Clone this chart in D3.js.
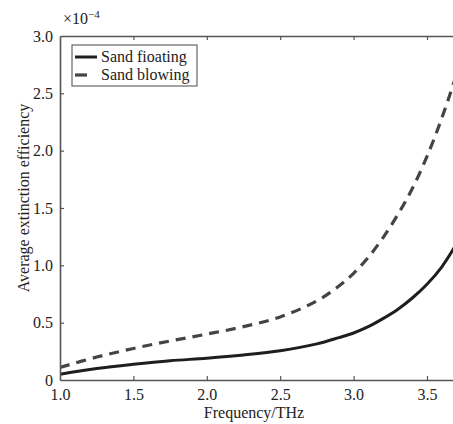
<!DOCTYPE html>
<html>
<head>
<meta charset="utf-8">
<script src="https://cdn.jsdelivr.net/npm/d3@7/dist/d3.min.js"></script>
<style>
  html, body { margin: 0; padding: 0; background: #fff; }
  svg { display: block; }
  svg text { font-family: "Liberation Serif", "Times New Roman", "DejaVu Serif", serif !important; fill: #222; }
</style>
</head>
<body>
<svg id="chart" width="453" height="424"></svg>
<script>
// Data (values in units of 1e-4)
const frequency = [1.0, 1.25, 1.5, 1.75, 2.0, 2.25, 2.5, 2.75, 2.9, 3.0, 3.1, 3.2, 3.3, 3.4, 3.5, 3.6, 3.7];
const sandFloating = [0.05, 0.10, 0.137, 0.168, 0.19, 0.218, 0.255, 0.315, 0.37, 0.41, 0.465, 0.535, 0.615, 0.715, 0.835, 0.985, 1.185];
const sandBlowing = [0.11, 0.20, 0.275, 0.34, 0.40, 0.465, 0.55, 0.69, 0.82, 0.93, 1.07, 1.24, 1.44, 1.67, 1.95, 2.28, 2.66];
const xTicks = [1.0, 1.5, 2.0, 2.5, 3.0, 3.5];
const xTickLabels = ["1.0", "1.5", "2.0", "2.5", "3.0", "3.5"];
const yTicks = [0, 0.5, 1.0, 1.5, 2.0, 2.5, 3.0];
const yTickLabels = ["0", "0.5", "1.0", "1.5", "2.0", "2.5", "3.0"];
const seriesNames = ["Sand fioating", "Sand blowing"];

(function () {
const svg = d3.select("#chart");
const mLeft = 60, mTop = 36, mBottom = 380;
const x = d3.scaleLinear().domain([1.0, 3.7]).range([mLeft, mLeft + 2.7 * 146.8]);
const y = d3.scaleLinear().domain([0, 3.0]).range([mBottom, mTop]);
const mRight = 460;
const serif = "Liberation Serif";
const axisColor = "#555";

svg.append("defs").append("clipPath").attr("id", "clip")
  .append("rect").attr("x", mLeft).attr("y", mTop).attr("width", mRight - mLeft).attr("height", mBottom - mTop);

const line = d3.line().x(d => x(d[0])).y(d => y(d[1])).curve(d3.curveCatmullRom.alpha(0.5));
const g = svg.append("g").attr("clip-path", "url(#clip)");
g.append("path")
  .datum(frequency.map((f, i) => [f, sandBlowing[i]]))
  .attr("d", line).attr("fill", "none").attr("stroke", "#444")
  .attr("stroke-width", 3.2).attr("stroke-dasharray", "10,7");
g.append("path")
  .datum(frequency.map((f, i) => [f, sandFloating[i]]))
  .attr("d", line).attr("fill", "none").attr("stroke", "#1e1e1e")
  .attr("stroke-width", 3);

const xAxisB = d3.axisBottom(x).tickValues(xTicks).tickFormat((d, i) => xTickLabels[i])
  .tickSizeInner(-4).tickSizeOuter(0).tickPadding(9);
const gx = svg.append("g").attr("transform", `translate(0,${mBottom})`).call(xAxisB)
  .attr("font-family", serif);
gx.select(".domain").attr("stroke", axisColor).attr("stroke-width", 1.6);
gx.selectAll(".tick line").attr("stroke", axisColor).attr("stroke-width", 1.2);
gx.selectAll(".tick text").attr("font-size", 16).attr("fill", "#222");
gx.selectAll(".tick").filter(d => d === 1.0).select("line").remove();

const xAxisT = d3.axisTop(x).tickValues(xTicks.slice(1)).tickFormat("")
  .tickSizeInner(-4).tickSizeOuter(0);
const gxt = svg.append("g").attr("transform", `translate(0,${mTop})`).call(xAxisT);
gxt.select(".domain").attr("stroke", axisColor).attr("stroke-width", 1.6);
gxt.selectAll(".tick line").attr("stroke", axisColor).attr("stroke-width", 1.2);

const yAxis = d3.axisLeft(y).tickValues(yTicks).tickFormat((d, i) => yTickLabels[i])
  .tickSizeInner(-4).tickSizeOuter(0).tickPadding(7);
const gy = svg.append("g").attr("transform", `translate(${mLeft},0)`).call(yAxis)
  .attr("font-family", serif);
gy.select(".domain").attr("stroke", axisColor).attr("stroke-width", 1.6);
gy.selectAll(".tick line").attr("stroke", axisColor).attr("stroke-width", 1.2);
gy.selectAll(".tick text").attr("font-size", 16).attr("fill", "#222");
gy.selectAll(".tick").filter(d => d === 0 || d === 3.0).select("line").remove();

const mult = svg.append("text").attr("x", 63).attr("y", 24).attr("font-size", 16).attr("font-family", serif);
mult.append("tspan").text("×10");
mult.append("tspan").attr("font-size", 11).attr("dy", -6).text("−4");

svg.append("text").attr("x", 254).attr("y", 418).attr("text-anchor", "middle")
  .attr("font-size", 16).attr("font-family", serif).text("Frequency/THz");
svg.append("text").attr("transform", "translate(29,198) rotate(-90)")
  .attr("text-anchor", "middle").attr("font-size", 16).attr("font-family", serif)
  .text("Average extinction efficiency");

const lg = svg.append("g");
lg.append("rect").attr("x", 72).attr("y", 45).attr("width", 125).attr("height", 41)
  .attr("fill", "#fff").attr("stroke", "#666").attr("stroke-width", 1.2);
lg.append("line").attr("x1", 75).attr("x2", 97).attr("y1", 57).attr("y2", 57)
  .attr("stroke", "#1e1e1e").attr("stroke-width", 3);
lg.append("line").attr("x1", 75).attr("x2", 97).attr("y1", 75).attr("y2", 75)
  .attr("stroke", "#444").attr("stroke-width", 3.2).attr("stroke-dasharray", "12,20");
lg.append("text").attr("x", 101).attr("y", 62).attr("font-size", 16).attr("font-family", serif).text(seriesNames[0]);
lg.append("text").attr("x", 101).attr("y", 80).attr("font-size", 16).attr("font-family", serif).text(seriesNames[1]);
})();
</script>
</body>
</html>
